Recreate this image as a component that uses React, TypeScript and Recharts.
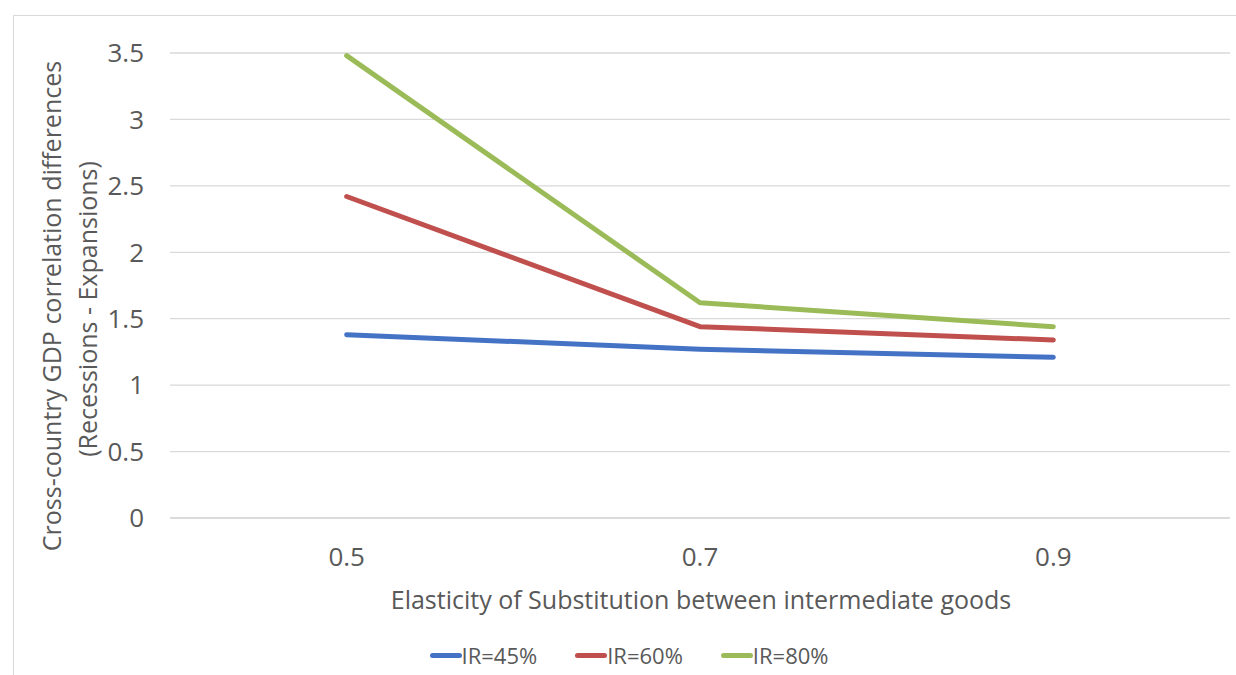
import React from 'react';
import { LineChart, Line, XAxis, YAxis, CartesianGrid } from 'recharts';

// Elasticity of substitution values on the category axis
const categories = ['0.5', '0.7', '0.9'];
// Cross-country GDP correlation differences for each import ratio
const ir45 = [1.38, 1.27, 1.21];
const ir60 = [2.42, 1.44, 1.34];
const ir80 = [3.48, 1.62, 1.44];
const yTicks = [0, 0.5, 1, 1.5, 2, 2.5, 3, 3.5];
const seriesKeys = ['ir45', 'ir60', 'ir80'];
const seriesNames = ['IR=45%', 'IR=60%', 'IR=80%'];
const seriesColors = ['#4472C4', '#C0504D', '#9BBB59'];

const data = categories.map((c, i) => ({
  x: c,
  ir45: ir45[i],
  ir60: ir60[i],
  ir80: ir80[i],
}));

const FONT = '"Open Sans", sans-serif';
const TEXT = '#595959';
const PLOT_W = 1060;

const YTitle = () => (
  <g fontFamily={FONT} fontSize={25} fill={TEXT}>
    <text x={51} y={306} transform="rotate(-90 51 306)" textAnchor="middle" dominantBaseline="central">
      Cross-country GDP correlation differences
    </text>
    <text x={87} y={309} transform="rotate(-90 87 309)" textAnchor="middle" dominantBaseline="central">
      (Recessions - Expansions)
    </text>
  </g>
);

const XTitle = () => (
  <text x={701} y={599} textAnchor="middle" dominantBaseline="central" fontFamily={FONT} fontSize={25} fill={TEXT}>
    Elasticity of Substitution between intermediate goods
  </text>
);

export default function App() {
  return (
    <div style={{ position: 'absolute', left: 0, top: 0, width: 1236, height: 675, background: '#fff', overflow: 'hidden' }}>
      <div
        style={{
          position: 'absolute',
          left: 13,
          top: 15,
          width: 1240,
          height: 700,
          border: '1px solid #d9d9d9',
          boxSizing: 'border-box',
        }}
      />
      <div style={{ position: 'absolute', left: 0, top: 0 }}>
        <LineChart width={1236} height={675} data={data} margin={{ top: 53, right: 6, left: 0, bottom: 0 }}>
          <CartesianGrid vertical={false} stroke="#d9d9d9" strokeWidth={1.3} />
          <XAxis
            dataKey="x"
            height={157}
            padding={{ left: PLOT_W / 6, right: PLOT_W / 6 }}
            tickLine={false}
            tickSize={0}
            tickMargin={30}
            axisLine={{ stroke: '#d9d9d9', strokeWidth: 1.3 }}
            tick={{ fill: TEXT, fontSize: 26, fontFamily: FONT }}
            label={{ content: () => <XTitle /> }}
          />
          <YAxis
            width={170}
            domain={[0, 3.5]}
            ticks={yTicks}
            interval={0}
            axisLine={false}
            tickLine={false}
            tickSize={0}
            tickMargin={26}
            tick={{ fill: TEXT, fontSize: 26, fontFamily: FONT }}
            label={{ content: () => <YTitle /> }}
          />
          {seriesKeys.map((k, i) => (
            <Line
              key={k}
              dataKey={k}
              name={seriesNames[i]}
              stroke={seriesColors[i]}
              strokeWidth={5}
              strokeLinecap="round"
              strokeLinejoin="round"
              dot={false}
              activeDot={false}
              isAnimationActive={false}
            />
          ))}
        </LineChart>
      </div>
      <div
        style={{
          position: 'absolute',
          left: 0,
          width: 1236,
          top: 641,
          display: 'flex',
          justifyContent: 'center',
          paddingLeft: 22,
          boxSizing: 'border-box',
          fontFamily: FONT,
          fontSize: 22,
          color: TEXT,
          gap: 38,
        }}
      >
        {seriesNames.map((n, i) => (
          <div key={n} style={{ display: 'flex', alignItems: 'center' }}>
            <div style={{ width: 32, height: 5, borderRadius: 3, background: seriesColors[i] }} />
            <span style={{ lineHeight: '28px' }}>{n}</span>
          </div>
        ))}
      </div>
    </div>
  );
}
